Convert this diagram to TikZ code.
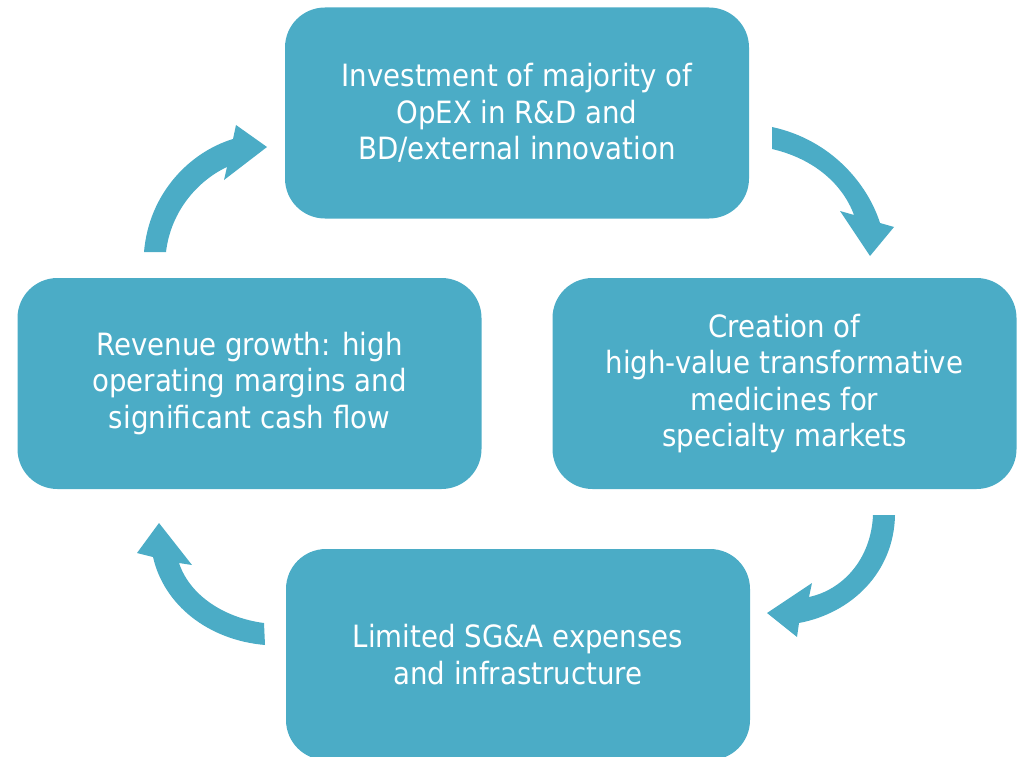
\documentclass[tikz,border=0pt]{standalone}
\usepackage{fontspec}
\setmainfont{DejaVu Sans Condensed}
\definecolor{aqua}{HTML}{4BACC6}
\begin{document}
\begin{tikzpicture}[x=1pt,y=-1pt,
  box/.style={fill=aqua, draw=none, rounded corners=40pt, minimum width=464pt,
    minimum height=211pt, text=white, align=center,
    font=\fontsize{30.7}{36.5}\selectfont, inner sep=0pt},
  blockarrow/.style={fill=aqua, draw=none}]
\useasboundingbox (0,0) rectangle (1022,757);
\begin{scope}
\clip (0,0) rectangle (1022,757);
\node[box] (invest) at (517,113) {Investment of majority of\\OpEX in R\&D and\\BD/external innovation};
\node[box] (create) at (784.5,383.5) {Creation of\\high-value transformative\\medicines for\\specialty markets};
\node[box] (revenue) at (249.5,383.5) {Revenue growth: high\\operating margins and\\significant cash flow};
\node[box] (limited) at (518,654.5) {Limited SG\&A expenses\\and infrastructure};
% top-right arrow
\fill[blockarrow] (772,127) .. controls (832,140) and (868,185) .. (880,223)
  -- (894,227) -- (870,256) -- (840,211) -- (854,215)
  .. controls (843,185) and (815,159) .. (772,149) -- cycle;
% bottom-right arrow
\fill[blockarrow] (895,515) .. controls (894,572) and (852,613) .. (799,623)
  -- (797,637) -- (767,613) -- (812,583) -- (809,597)
  .. controls (842,590) and (871,560) .. (873,515) -- cycle;
% bottom-left arrow
\fill[blockarrow] (265,645) .. controls (208,640) and (164,605) .. (153,557)
  -- (137,553) -- (159,523) -- (192,565) -- (179,563)
  .. controls (190,596) and (225,618) .. (264,623) -- cycle;
% top-left arrow
\fill[blockarrow] (144,252) .. controls (149,193) and (190,152) .. (233,139)
  -- (236,125) -- (267,147) -- (224,180) -- (227,167)
  .. controls (199,180) and (171,210) .. (166,252) -- cycle;
\end{scope}
\end{tikzpicture}
\end{document}
